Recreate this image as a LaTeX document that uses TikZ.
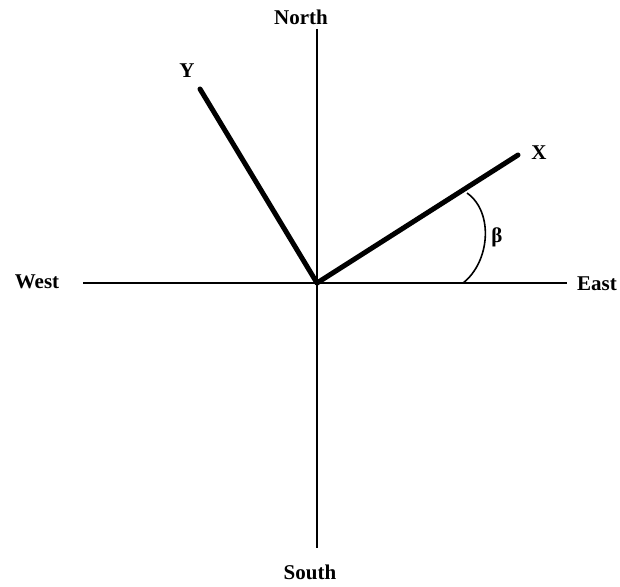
\documentclass[tikz,border=0pt]{standalone}
\usepackage{fontspec}
\setmainfont{Liberation Serif}
\usetikzlibrary{positioning}
\tikzset{
  lbl/.style={font=\fontsize{21}{23}\selectfont\bfseries, inner sep=0pt, text=black},
  axis/.style={draw=black, line width=2pt},
  ray/.style={draw=black, line width=5pt, line cap=round},
  angarc/.style={draw=black, line width=1.6pt},
}
\begin{document}
\begin{tikzpicture}[x=1pt,y=-1pt]
  \useasboundingbox (0,0) rectangle (620,586);
  % compass axes
  \coordinate (o) at (317,283);
  \coordinate (ntop) at (317,29);
  \coordinate (sbot) at (317,548);
  \coordinate (wend) at (83,283);
  \coordinate (eend) at (567,283);
  \node[lbl] (north) at (301,17){North};
  \node[lbl] (south) at (310,572){South};
  \node[lbl] (west) at (37,282){West};
  \node[lbl] (east) at (597,284){East};
  \draw[axis](ntop)--(sbot);
  \draw[axis](wend)--(eend);
  % rotated axes
  \coordinate (xend) at (518,155);
  \coordinate (yend) at (200,89);
  \node[lbl] (xl) at (539,153){X};
  \node[lbl] (yl) at (187,71){Y};
  \draw[ray](o)--(xend);
  \draw[ray](o)--(yend);
  % angle
  \coordinate (a1) at (463,283);
  \coordinate (a2) at (467,193);
  \draw[angarc](a1) .. controls (490,262) and (494,212) .. (a2);
  \node[lbl] (beta) at (497,237){β};
\end{tikzpicture}
\end{document}
